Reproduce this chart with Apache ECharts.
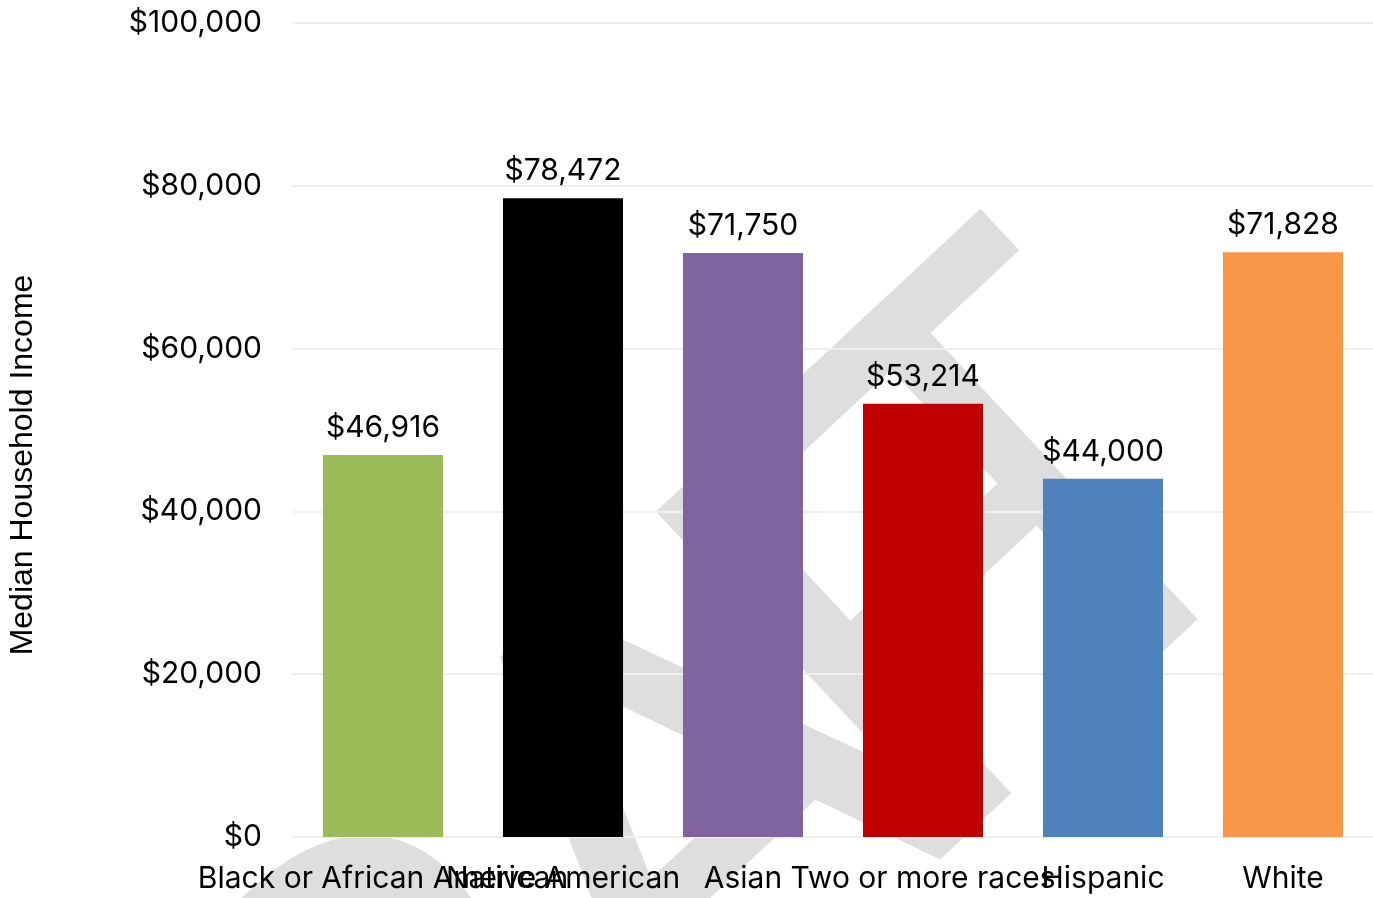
<!DOCTYPE html>
<html><head><meta charset="utf-8">
<script src="https://cdn.jsdelivr.net/npm/echarts@6/dist/echarts.min.js"></script>
<style>html,body{margin:0;padding:0;background:#fff}#c{width:1373px;height:898px}</style>
</head><body><div id="c"></div>
<script>
const categories = ["Black or African American", "Native American", "Asian", "Two or more races", "Hispanic", "White"];
const incomes = [46916, 78472, 71750, 53214, 44000, 71828];
const barColors = ["#9BBB59", "#000000", "#8064A2", "#C00000", "#4F81BD", "#F79646"];
const yTicks = { min: 0, max: 100000, interval: 20000 };
const yTitle = "Median Household Income";
const watermarkLetters = ["D", "R", "A", "F", "T"];

const fmt = v => "$" + Number(v).toLocaleString("en-US");
const font = "Inter, 'Noto Sans', sans-serif";

// watermark letters placed along a rotated baseline
const wmOffsets = [-1290, -850, -426, -83, 105];
const wmScaleX = [1, 1, 1, 1, 0.8];
const wmChildren = watermarkLetters.map((t, i) => ({
  type: "text", x: wmOffsets[i], y: -163, scaleX: wmScaleX[i], silent: true,
  style: { text: t, fill: "#dedede", font: "640px 'Liberation Sans', Arial, sans-serif",
           align: "left", verticalAlign: "middle", stroke: "#dedede", lineWidth: 8, lineJoin: "round" }
}));

const chart = echarts.init(document.getElementById("c"), null, { renderer: "canvas" });
chart.setOption({
  animation: false,
  backgroundColor: "#fff",
  graphic: [
    { type: "group", x: 975, y: 803, rotation: 43 * Math.PI / 180, z: -1, silent: true, children: wmChildren },
    {
      type: "text", x: 23, y: 465, rotation: Math.PI / 2,
      style: { text: yTitle, fill: "#000", font: "32px 'Liberation Sans', Arial, sans-serif", align: "center", verticalAlign: "middle" }
    }
  ],
  grid: { left: 293, right: 0, top: 23, bottom: 61, containLabel: false },
  xAxis: {
    type: "category", data: categories,
    axisLine: { show: false }, axisTick: { show: false },
    axisLabel: { interval: 0, color: "#000", fontFamily: font, fontSize: 30, margin: 27, hideOverlap: false }
  },
  yAxis: {
    type: "value", min: yTicks.min, max: yTicks.max, interval: yTicks.interval,
    axisLine: { show: false }, axisTick: { show: false },
    splitLine: { lineStyle: { color: "#efefef", width: 2 } },
    axisLabel: { color: "#000", fontFamily: font, fontSize: 30, margin: 31, formatter: fmt }
  },
  series: [{
    type: "bar", barCategoryGap: "33.3%", z: 5,
    data: incomes.map((v, i) => ({ value: v, itemStyle: { color: barColors[i] } })),
    label: { show: true, position: "top", distance: 12, color: "#000", fontFamily: font, fontSize: 30, formatter: p => fmt(p.value) }
  }]
});
</script></body></html>
